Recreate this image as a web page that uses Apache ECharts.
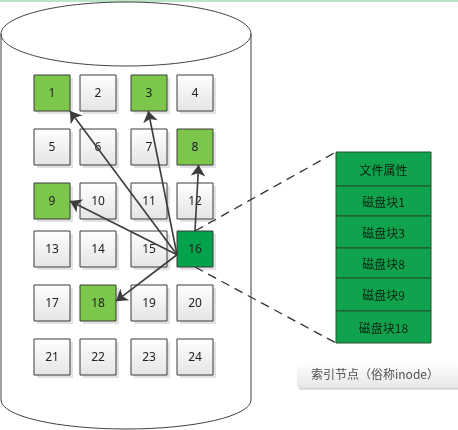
<!DOCTYPE html>
<html>
<head>
<meta charset="utf-8">
<script src="https://cdn.jsdelivr.net/npm/echarts@6/dist/echarts.min.js"></script>
<style>
html,body{margin:0;padding:0;background:#fff}
#main{width:458px;height:430px}
</style>
</head>
<body>
<div id="main"></div>
<script>
// 磁盘块编号
var blocks = [1,2,3,4,5,6,7,8,9,10,11,12,13,14,15,16,17,18,19,20,21,22,23,24];
// 被文件占用的磁盘块
var usedBlocks = [1, 3, 8, 9, 18];
// 存放inode的磁盘块
var inodeBlock = 16;
// 箭头指向的块
var arrowTargets = [1, 3, 8, 9, 18];
// inode内容
var inodeRows = ['文件属性', '磁盘块1', '磁盘块3', '磁盘块8', '磁盘块9', '磁盘块18'];
var caption = '索引节点（俗称inode）';

// 布局
var colX = [34, 80, 131, 177];
var rowY = [75, 129, 183, 231, 285, 339];
var BOX = 36;
var tableX = [336, 431];
var tableY = [152, 186, 216, 248, 278, 311, 343];
// 箭头起止点在方块上的相对位置
var srcAnchor = {1: [0, 0.66], 3: [0, 0.66], 8: [0.5, 0], 9: [0, 0.66], 18: [0, 0.66]};
var dstAnchor = {1: [1, 1], 3: [0.48, 1], 8: [0.6, 1], 9: [1, 0.5], 18: [1, 0.45]};

function boxPos(b) {
    var i = b - 1;
    return [colX[i % 4], rowY[Math.floor(i / 4)]];
}
function anchor(b, a) {
    var p = boxPos(b);
    return [p[0] + a[0] * BOX, p[1] + a[1] * BOX];
}

var myChart = echarts.init(document.getElementById('main'));

var whiteFill = new echarts.graphic.LinearGradient(0, 0, 0, 1, [
    {offset: 0, color: '#ffffff'}, {offset: 1, color: '#e4e4e4'}
]);

var option = {
    animation: false,
    grid: {left: 0, right: 0, top: 0, bottom: 0},
    xAxis: {type: 'value', min: 0, max: 458, show: false},
    yAxis: {type: 'value', min: 0, max: 430, inverse: true, show: false},
    graphic: [{
        type: 'rect', left: 0, top: 0,
        shape: {width: 458, height: 2},
        style: {fill: '#b9e6c4'}
    }],
    series: [
        {
            // 磁盘（圆柱）
            type: 'custom',
            data: [[126, 34]],
            renderItem: function (params, api) {
                var c = api.coord([api.value(0), api.value(1)]);
                var top = c[1], bot = api.coord([0, 400])[1];
                var left = api.coord([1, 0])[0], right = api.coord([251, 0])[0];
                var st = {fill: 'none', stroke: '#404040', lineWidth: 1};
                return {
                    type: 'group',
                    children: [
                        {type: 'ellipse', shape: {cx: c[0], cy: top, rx: 125, ry: 32}, style: {fill: '#fff', stroke: '#404040', lineWidth: 1}},
                        {type: 'line', shape: {x1: left, y1: top, x2: left, y2: bot}, style: st},
                        {type: 'line', shape: {x1: right, y1: top, x2: right, y2: bot}, style: st},
                        {type: 'path', shape: {pathData: 'M' + left + ',' + bot + ' A125,29 0 0 0 ' + right + ',' + bot}, style: st}
                    ]
                };
            }
        },
        {
            // 磁盘块
            type: 'custom',
            data: blocks.map(function (b) {
                var p = boxPos(b);
                return [p[0], p[1], b];
            }),
            renderItem: function (params, api) {
                var p = api.coord([api.value(0), api.value(1)]);
                var b = api.value(2);
                var fill = whiteFill;
                if (b === inodeBlock) fill = '#03a34c';
                else if (usedBlocks.indexOf(b) >= 0) fill = '#7cc64c';
                return {
                    type: 'group',
                    children: [
                        {type: 'rect', shape: {x: p[0] + 3, y: p[1] + 3, width: BOX, height: BOX}, style: {fill: '#e2e2e2'}},
                        {type: 'rect', shape: {x: p[0], y: p[1], width: BOX, height: BOX}, style: {fill: fill, stroke: '#3a3a3a', lineWidth: 1}},
                        {type: 'text', style: {
                            text: String(b), x: p[0] + BOX / 2, y: p[1] + BOX / 2 + 1,
                            align: 'center', verticalAlign: 'middle',
                            font: '12px "Noto Sans", sans-serif', fill: '#222'
                        }}
                    ]
                };
            }
        },
        {
            // inode 表
            type: 'custom',
            data: inodeRows.map(function (t, i) { return [tableX[0], tableY[i], i]; }),
            renderItem: function (params, api) {
                var i = api.value(2);
                var p = api.coord([api.value(0), api.value(1)]);
                var p2 = api.coord([tableX[1], tableY[i + 1]]);
                return {
                    type: 'group',
                    children: [
                        {type: 'rect', shape: {x: p[0], y: p[1], width: p2[0] - p[0], height: p2[1] - p[1]},
                            style: {fill: '#10a24d', stroke: '#24532f', lineWidth: 1}},
                        {type: 'text', style: {
                            text: inodeRows[i], x: (p[0] + p2[0]) / 2, y: (p[1] + p2[1]) / 2 + 1,
                            align: 'center', verticalAlign: 'middle',
                            font: '12px "Noto Sans CJK SC", sans-serif', fill: '#0a2410'
                        }}
                    ]
                };
            }
        },
        {
            // 说明文字
            type: 'custom',
            data: [[297, 362]],
            renderItem: function (params, api) {
                var p = api.coord([api.value(0), api.value(1)]);
                return {
                    type: 'group',
                    children: [
                        {type: 'rect', shape: {x: p[0] + 2, y: p[1] + 3, width: 163, height: 25}, style: {fill: '#dcdcdc'}},
                        {type: 'rect', shape: {x: p[0], y: p[1], width: 163, height: 25},
                            style: {fill: new echarts.graphic.LinearGradient(0, 0, 0, 1, [
                                {offset: 0, color: '#ffffff'}, {offset: 1, color: '#e8e8e8'}
                            ])}},
                        {type: 'text', style: {
                            text: caption, x: p[0] + 14, y: p[1] + 12,
                            align: 'left', verticalAlign: 'middle',
                            font: '12px "Noto Sans CJK SC", sans-serif', fill: '#505050'
                        }}
                    ]
                };
            }
        },
        {
            // 虚线
            type: 'lines',
            coordinateSystem: 'cartesian2d',
            silent: true,
            lineStyle: {color: '#333', width: 1.3, type: [9, 6], opacity: 1},
            data: [
                {coords: [anchor(inodeBlock, [0.5, 0]), [tableX[0], tableY[0]]]},
                {coords: [anchor(inodeBlock, [0.5, 1]), [tableX[0], tableY[tableY.length - 1]]]}
            ]
        },
        {
            // 箭头
            type: 'lines',
            coordinateSystem: 'cartesian2d',
            silent: true,
            symbol: ['none', 'arrow'],
            symbolSize: 11,
            lineStyle: {color: '#3c3c3c', width: 1.6, opacity: 1},
            data: arrowTargets.map(function (t) {
                return {coords: [anchor(inodeBlock, srcAnchor[t]), anchor(t, dstAnchor[t])]};
            })
        }
    ]
};

myChart.setOption(option);
window.onresize = myChart.resize;
</script>
</body>
</html>
